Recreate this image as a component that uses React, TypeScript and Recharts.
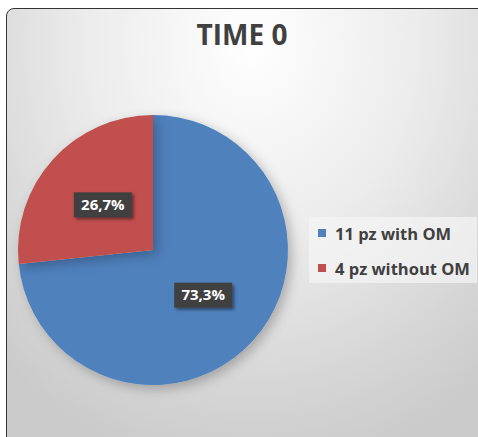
import { PieChart, Pie, Cell, Legend } from "recharts";

const groups = ["11 pz with OM", "4 pz without OM"];
const patients = [11, 4];
const colors = ["#4f81bd", "#c0504d"];

const data = groups.map((name, i) => ({ name, value: patients[i] }));

const RADIAN = Math.PI / 180;

const renderLabel = (props: any) => {
  const { cx, cy, midAngle, outerRadius, percent } = props;
  const r = outerRadius * 0.5;
  const x = cx + r * Math.cos(-midAngle * RADIAN);
  const y = cy + r * Math.sin(-midAngle * RADIAN);
  const text = (percent * 100).toFixed(1).replace(".", ",") + "%";
  return (
    <g>
      <rect
        x={x - 29}
        y={y - 12.5}
        width={58}
        height={25}
        fill="#404040"
        filter="url(#boxShadow)"
      />
      <text
        x={x}
        y={y + 1}
        fill="#ffffff"
        textAnchor="middle"
        dominantBaseline="middle"
        style={{ fontFamily: "Open Sans", fontWeight: 700, fontSize: 15 }}
      >
        {text}
      </text>
    </g>
  );
};

const renderLegend = () => (
  <div
    style={{
      background: "rgba(245,245,245,0.7)",
      width: 168,
      height: 66,
      boxSizing: "border-box",
      paddingTop: 2,
      paddingLeft: 9,
    }}
  >
    {data.map((d, i) => (
      <div
        key={d.name}
        style={{
          display: "flex",
          alignItems: "center",
          height: 28,
          marginBottom: i === 0 ? 7 : 0,
          fontFamily: "Open Sans",
          fontWeight: 700,
          fontSize: 16.5,
          color: "#404040",
        }}
      >
        <span
          style={{
            display: "inline-block",
            width: 8,
            height: 8,
            background: colors[i],
            marginRight: 9,
          }}
        />
        {d.name}
      </div>
    ))}
  </div>
);

export default function App() {
  return (
    <div
      style={{
        position: "absolute",
        left: 0,
        top: 0,
        width: 478,
        height: 437,
        overflow: "hidden",
        background: "#ffffff",
      }}
    >
      <svg width={0} height={0} style={{ position: "absolute" }}>
        <defs>
          <filter id="pieShadow" x="-20%" y="-20%" width="140%" height="140%">
            <feDropShadow dx={4} dy={4} stdDeviation={6} floodColor="#000" floodOpacity={0.25} />
          </filter>
          <filter id="boxShadow" x="-30%" y="-30%" width="160%" height="160%">
            <feDropShadow dx={2} dy={2} stdDeviation={1.5} floodColor="#000" floodOpacity={0.45} />
          </filter>
        </defs>
      </svg>
      <div
        style={{
          position: "absolute",
          left: 6,
          top: 8,
          width: 490,
          height: 450,
          border: "1.5px solid #333",
          borderRadius: 8,
          background:
            "radial-gradient(ellipse 75% 95% at 50% 8%, #ffffff 0%, #ececec 45%, #d6d6d6 80%, #cbcbcb 100%)",
        }}
      />
      <div
        style={{
          position: "absolute",
          left: 6,
          width: 472,
          top: 15,
          textAlign: "center",
          fontFamily: "Open Sans",
          fontWeight: 700,
          fontSize: 28,
          color: "#404040",
        }}
      >
        TIME 0
      </div>
      <div style={{ position: "absolute", left: 0, top: 0 }}>
        <PieChart width={478} height={437} margin={{ top: 0, right: 0, bottom: 0, left: 0 }}>
          <Pie
            data={data}
            dataKey="value"
            nameKey="name"
            cx={153}
            cy={250}
            outerRadius={135}
            startAngle={90}
            endAngle={-270}
            stroke="none"
            label={renderLabel}
            labelLine={false}
            isAnimationActive={false}
            style={{ filter: "url(#pieShadow)" }}
          >
            {data.map((d, i) => (
              <Cell key={d.name} fill={colors[i]} />
            ))}
          </Pie>
          <Legend
            content={renderLegend}
            wrapperStyle={{ position: "absolute", left: 309, top: 217, width: 168 }}
          />
        </PieChart>
      </div>
    </div>
  );
}
